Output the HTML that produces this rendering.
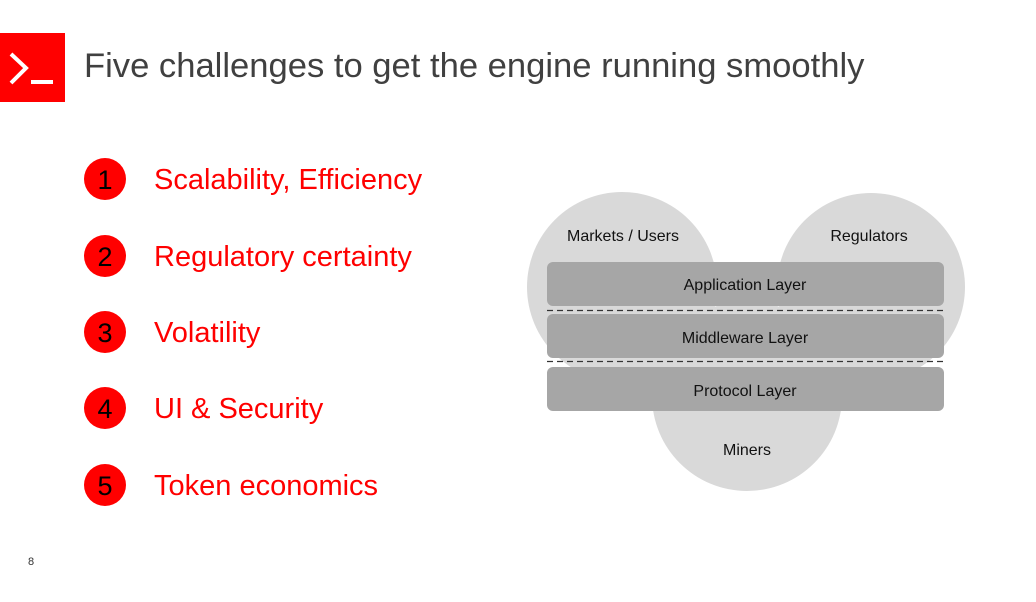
<!DOCTYPE html>
<html><head><meta charset="utf-8"><style>
body{margin:0;width:1036px;height:602px;background:#fff;position:relative;overflow:hidden;font-family:"Liberation Sans",Arial,sans-serif}
.a{position:absolute;white-space:nowrap}
</style></head><body>
<div class="a" style="left:0;top:33px;width:65px;height:69px;background:#ff0000"></div>
<svg class="a" style="left:0;top:33px" width="65" height="69"><polyline points="11,21 26,35 11,50" fill="none" stroke="#fff" stroke-width="4"/><rect x="31" y="47" width="22" height="4" fill="#fff"/></svg>
<div class="a" style="left:84px;top:47px;font-size:34.6px;color:#404040">Five challenges to get the engine running smoothly</div>
<svg class="a" style="left:0;top:0" width="1036" height="602">
<g fill="#ff0000">
<circle cx="105" cy="179" r="21"/><circle cx="105" cy="256" r="21"/><circle cx="105" cy="332" r="21"/><circle cx="105" cy="408" r="21"/><circle cx="105" cy="485" r="21"/></g>
<g font-family="Liberation Sans,Arial,sans-serif" font-size="27" text-anchor="middle" fill="#000">
<text x="105" y="189">1</text><text x="105" y="266">2</text><text x="105" y="342">3</text><text x="105" y="418">4</text><text x="105" y="495">5</text></g>
<g font-family="Liberation Sans,Arial,sans-serif" font-size="29" fill="#ff0000">
<text x="154" y="189">Scalability, Efficiency</text><text x="154" y="266">Regulatory certainty</text><text x="154" y="342">Volatility</text><text x="154" y="418">UI &amp; Security</text><text x="154" y="495">Token economics</text></g>
<g fill="#d9d9d9"><circle cx="622" cy="287" r="95"/><circle cx="871" cy="287" r="94"/><circle cx="747" cy="396" r="95"/></g>
<g fill="#a6a6a6"><rect x="547" y="262" width="397" height="44" rx="6"/><rect x="547" y="314" width="397" height="44" rx="6"/><rect x="547" y="367" width="397" height="44" rx="6"/></g>
<g stroke="#333" stroke-width="1.3" stroke-dasharray="6,4"><line x1="547" y1="310.5" x2="946" y2="310.5"/><line x1="547" y1="361.5" x2="946" y2="361.5"/></g>
<g font-family="Liberation Sans,Arial,sans-serif" font-size="16" fill="#111" text-anchor="middle">
<text x="623" y="241">Markets / Users</text><text x="869" y="241">Regulators</text>
<text x="745" y="290">Application Layer</text><text x="745" y="343">Middleware Layer</text><text x="745" y="396">Protocol Layer</text><text x="747" y="455">Miners</text></g>
<text x="28" y="565" font-family="Liberation Sans,Arial,sans-serif" font-size="11" fill="#333">8</text>
</svg>
</body></html>
